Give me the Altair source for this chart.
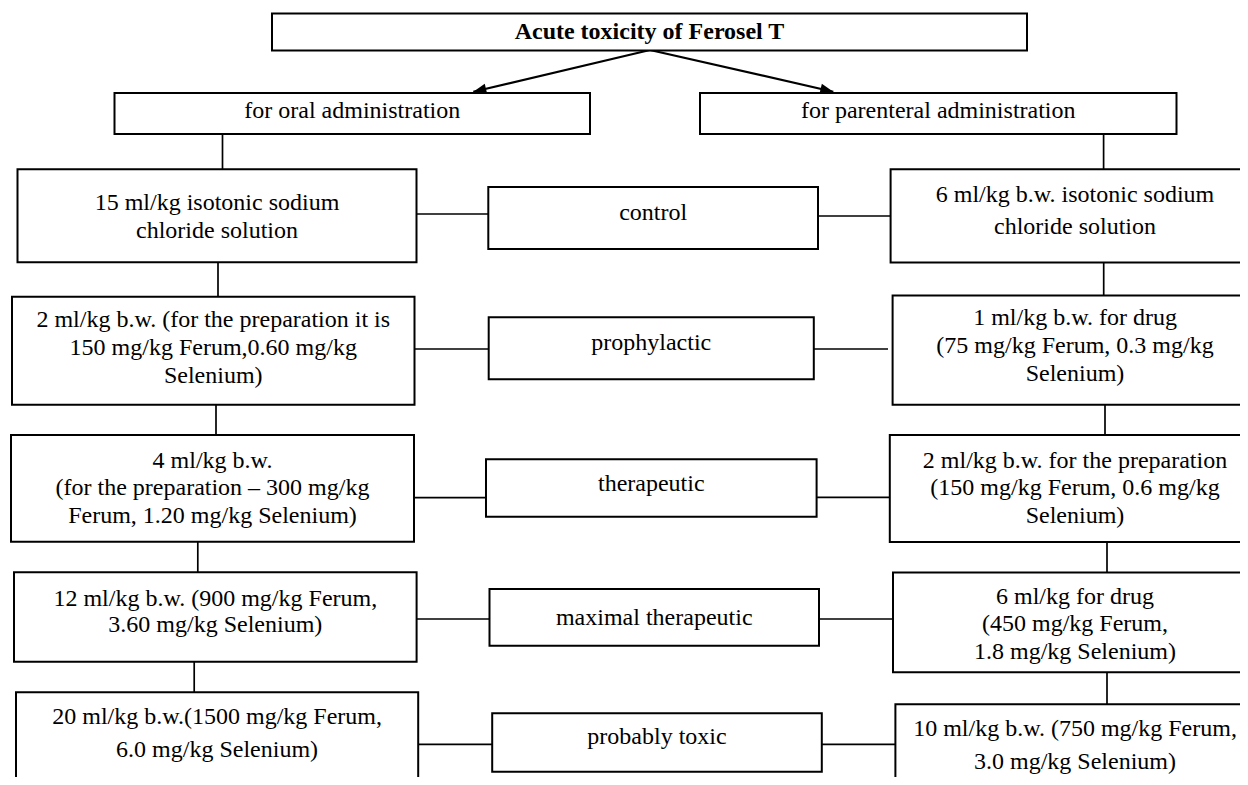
import altair as alt
import pandas as pd

# ---------------- content ----------------
title_text = "Acute toxicity of Ferosel T"
routes = ["for oral administration", "for parenteral administration"]
groups = ["control", "prophylactic", "therapeutic", "maximal therapeutic", "probably toxic"]
oral_doses = [
    ["15 ml/kg isotonic sodium", "chloride solution"],
    ["2 ml/kg b.w. (for the preparation it is", "150 mg/kg Ferum,0.60 mg/kg", "Selenium)"],
    ["4 ml/kg b.w.", "(for the preparation \u2013 300 mg/kg", "Ferum, 1.20 mg/kg Selenium)"],
    ["12 ml/kg b.w. (900 mg/kg Ferum,", "3.60 mg/kg Selenium)"],
    ["20 ml/kg b.w.(1500 mg/kg Ferum,", "6.0 mg/kg Selenium)"],
]
parenteral_doses = [
    ["6 ml/kg b.w. isotonic sodium", "chloride solution"],
    ["1 ml/kg b.w. for drug", "(75 mg/kg Ferum, 0.3 mg/kg", "Selenium)"],
    ["2 ml/kg b.w. for the preparation", "(150 mg/kg Ferum, 0.6 mg/kg", "Selenium)"],
    ["6 ml/kg for drug", "(450 mg/kg Ferum,", "1.8 mg/kg Selenium)"],
    ["10 ml/kg b.w. (750 mg/kg Ferum,", "3.0 mg/kg Selenium)"],
]

# ---------------- layout (diagram space, px) ----------------
title_box = (272, 1027, 13.5, 50.5)
route_boxes = [(114.5, 590, 93, 134), (700, 1176.5, 93, 134)]
oral_boxes = [(17.5, 416.5, 169.3, 262.3), (12, 414.5, 296.7, 404.7), (11, 414, 435, 541.7),
              (14, 416.6, 572.3, 661.7), (16, 418.2, 692.3, 820)]
group_boxes = [(488.3, 818, 187, 249), (488.7, 813.8, 317.3, 379.3), (486, 816.6, 459.3, 516.7),
               (489.5, 819, 589, 645.7), (492.2, 821.8, 713.3, 771.7)]
par_boxes = [(890.6, 1320, 169.3, 262.5), (892.6, 1320, 295.5, 404.7), (889.8, 1320, 435, 542),
             (893, 1320, 572.5, 672.2), (895.4, 1320, 704.3, 820)]

title_y = 31.5
route_text_y = 111
oral_line_y = [[203.3, 230.7], [320, 347.7, 376], [460.7, 488.3, 516], [599.3, 625], [717.3, 750]]
group_line_y = [212.5, 342.5, 483.5, 618.3, 736.7]
par_text_x = 1075
par_line_y = [[195, 226.5], [318.3, 345.5, 373.8], [460.5, 488.3, 516], [596.7, 624, 651.7], [729.3, 761.7]]

arrow_from = (650, 50)
arrow_tips = [(473.3, 91.7), (833.3, 91.7)]
connectors = [
    (222.5, 134, 222.5, 169.3), (1103.6, 134, 1103.6, 169.3),
    (218, 262.3, 218, 296.7), (216, 404.7, 216, 435), (197.8, 541.7, 197.8, 572.3), (194.2, 661.7, 194.2, 692.3),
    (1103.7, 262.5, 1103.7, 295.5), (1105, 404.7, 1105, 435), (1107, 542, 1107, 572.5), (1107, 672.2, 1107, 704.3),
    (416.5, 214, 488.3, 214), (818, 216, 890.6, 216),
    (414.5, 349, 488.7, 349), (813.8, 349, 888, 349),
    (414, 497.7, 486, 497.7), (816.6, 497.3, 889.8, 497.3),
    (416.6, 619, 489.5, 619), (819, 619, 893, 619),
    (418.2, 744.3, 492.2, 744.3), (821.8, 744.3, 895.4, 744.3),
]

# ---------------- tables ----------------
boxes = [title_box] + route_boxes + oral_boxes + group_boxes + par_boxes
box_df = pd.DataFrame(boxes, columns=["x1", "x2", "y1", "y2"])

text_rows = []
for (bx, lab) in zip(route_boxes, routes):
    text_rows.append({"x": (bx[0] + bx[1]) / 2, "y": route_text_y, "text": lab})
for bx, lines, ys in zip(oral_boxes, oral_doses, oral_line_y):
    for ln, yy in zip(lines, ys):
        text_rows.append({"x": (bx[0] + bx[1]) / 2, "y": yy, "text": ln})
for bx, lab, yy in zip(group_boxes, groups, group_line_y):
    text_rows.append({"x": (bx[0] + bx[1]) / 2, "y": yy, "text": lab})
for lines, ys in zip(parenteral_doses, par_line_y):
    for ln, yy in zip(lines, ys):
        text_rows.append({"x": par_text_x, "y": yy, "text": ln})
text_df = pd.DataFrame(text_rows)
title_df = pd.DataFrame([{"x": (title_box[0] + title_box[1]) / 2, "y": title_y, "text": title_text}])

seg_df = pd.DataFrame(connectors, columns=["x1", "y1", "x2", "y2"])
arrow_df = pd.DataFrame([{"x1": arrow_from[0], "y1": arrow_from[1], "x2": t[0], "y2": t[1]} for t in arrow_tips])
head_df = pd.DataFrame([{"x": arrow_tips[0][0], "y": arrow_tips[0][1], "angle": 256.7},
                        {"x": arrow_tips[1][0], "y": arrow_tips[1][1], "angle": 103.3}])

xs = alt.Scale(domain=[8, 1240], nice=False, zero=False)
ys = alt.Scale(domain=[8, 777], reverse=True, nice=False, zero=False)

rects = alt.Chart(box_df).mark_rect(fill="white", stroke="black", strokeWidth=2, clip=True).encode(
    x=alt.X("x1:Q", scale=xs, axis=None), x2="x2:Q",
    y=alt.Y("y1:Q", scale=ys, axis=None), y2="y2:Q")

segs = alt.Chart(seg_df).mark_rule(color="black", strokeWidth=1.7).encode(
    x=alt.X("x1:Q", scale=xs, axis=None), x2="x2:Q",
    y=alt.Y("y1:Q", scale=ys, axis=None), y2="y2:Q")

arrows = alt.Chart(arrow_df).mark_rule(color="black", strokeWidth=2.2).encode(
    x=alt.X("x1:Q", scale=xs, axis=None), x2="x2:Q",
    y=alt.Y("y1:Q", scale=ys, axis=None), y2="y2:Q")

heads = alt.Chart(head_df).mark_point(shape="M0,0L-0.8,2L0.8,2Z", size=169, filled=True,
                                      color="black", opacity=1, strokeWidth=0).encode(
    x=alt.X("x:Q", scale=xs, axis=None),
    y=alt.Y("y:Q", scale=ys, axis=None),
    angle=alt.Angle("angle:Q", scale=None))

texts = alt.Chart(text_df).mark_text(font="Liberation Serif", fontSize=24, align="center",
                                     baseline="middle", color="black").encode(
    x=alt.X("x:Q", scale=xs, axis=None), y=alt.Y("y:Q", scale=ys, axis=None), text="text:N")

title = alt.Chart(title_df).mark_text(font="Liberation Serif", fontSize=24, fontWeight="bold",
                                      align="center", baseline="middle", color="black").encode(
    x=alt.X("x:Q", scale=xs, axis=None), y=alt.Y("y:Q", scale=ys, axis=None), text="text:N")

chart = alt.layer(segs, arrows, rects, heads, texts, title).properties(
    width=1232, height=769, padding=0, background="white"
).configure_view(stroke=None)

chart.save("out.html", embed_options={"renderer": "svg", "actions": False})
